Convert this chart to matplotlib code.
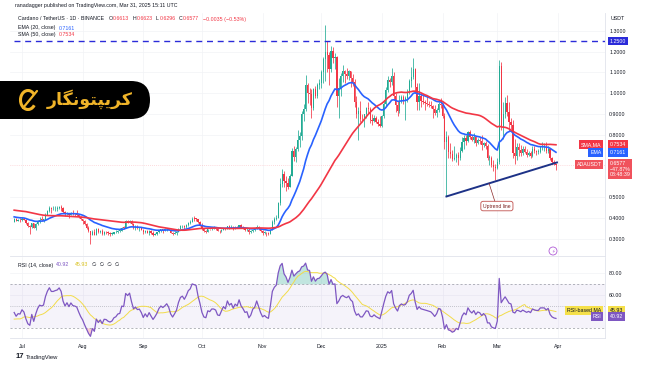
import numpy as np
import pandas as pd
import matplotlib
matplotlib.use('Agg')
import matplotlib.pyplot as plt
from matplotlib.patches import FancyBboxPatch, Arc, Circle

plt.rcParams['font.family'] = ['Liberation Sans', 'DejaVu Sans']

# ADA/USDT daily closes 2024-05-08 .. 2024-06-26 (off screen, only used to seed EMA / SMA / RSI)
warmup_close = [
    0.447, 0.458, 0.446, 0.443, 0.450, 0.443, 0.447, 0.466, 0.460, 0.467, 0.470, 0.466,
    0.493, 0.483, 0.478, 0.463, 0.466, 0.468, 0.467, 0.459, 0.464, 0.454, 0.449, 0.448,
    0.452, 0.449, 0.453, 0.455, 0.464, 0.460, 0.443, 0.446, 0.447, 0.441, 0.421, 0.433,
    0.425, 0.415, 0.420, 0.423, 0.404, 0.381, 0.393, 0.397, 0.396, 0.394, 0.375, 0.390,
    0.394, 0.384,
]

# visible candles, one per day from 2024-06-27 to 2025-03-31
start = '2024-06-27'
close = [
    0.397, 0.387, 0.392, 0.391,
    0.399, 0.394, 0.377, 0.362, 0.357, 0.377, 0.355, 0.371, 0.385, 0.394, 0.392, 0.394, 0.418, 0.437, 0.451, 0.443,
    0.443, 0.446, 0.448, 0.455, 0.449, 0.430, 0.419, 0.427, 0.418, 0.427, 0.421, 0.420, 0.418, 0.407, 0.396,
    0.387, 0.372, 0.356, 0.337, 0.321, 0.335, 0.322, 0.348, 0.334, 0.340, 0.325, 0.335, 0.334, 0.328, 0.325, 0.327,
    0.333, 0.335, 0.340, 0.341, 0.355, 0.354, 0.386, 0.382, 0.389, 0.372, 0.355, 0.359, 0.353, 0.354, 0.346,
    0.333, 0.340, 0.332, 0.340, 0.331, 0.322, 0.327, 0.333, 0.342, 0.347, 0.344, 0.347, 0.351, 0.345, 0.332, 0.325,
    0.330, 0.336, 0.350, 0.361, 0.364, 0.359, 0.367, 0.379, 0.384, 0.399, 0.398, 0.397, 0.382, 0.369,
    0.350, 0.338, 0.336, 0.349, 0.347, 0.352, 0.352, 0.350, 0.340, 0.339, 0.346, 0.353, 0.349, 0.363, 0.356, 0.359,
    0.351, 0.358, 0.355, 0.366, 0.356, 0.351, 0.344, 0.345, 0.333, 0.337, 0.346, 0.349, 0.360, 0.350, 0.339,
    0.330, 0.332, 0.328, 0.326, 0.346, 0.381, 0.395, 0.403, 0.474, 0.563, 0.615, 0.581, 0.570, 0.551, 0.604, 0.723,
    0.695, 0.735, 0.775, 0.797, 0.899, 0.924, 1.039, 0.999, 0.996, 0.929, 1.020, 0.989, 1.041, 1.050,
    1.100, 1.164, 1.196, 1.182, 1.115, 1.204, 1.167, 1.175, 0.986, 1.025, 1.085, 1.107, 1.092, 1.084, 1.105, 1.071,
    1.054, 0.957, 0.902, 0.915, 0.877, 0.876, 0.900, 0.927, 0.923, 0.874, 0.866, 0.880, 0.863, 0.853, 0.843,
    0.890, 0.950, 1.015, 1.065, 1.055, 1.085, 0.985, 0.945, 0.915, 0.965, 0.980, 0.970, 0.975, 1.000, 1.060, 1.080,
    1.115, 1.030, 0.960, 0.985, 0.965, 0.960, 0.955, 0.950, 0.945, 0.940, 0.925, 0.905, 0.920, 0.950, 0.945,
    0.890, 0.765, 0.790, 0.720, 0.710, 0.685, 0.690, 0.705, 0.690, 0.725, 0.765, 0.785, 0.770, 0.815, 0.790, 0.775,
    0.790, 0.760, 0.775, 0.770, 0.750, 0.760, 0.745, 0.690, 0.690, 0.655, 0.645, 0.640,
    0.670, 1.130, 0.840, 0.900, 0.955, 0.910, 0.860, 0.850, 0.715, 0.700, 0.740, 0.730, 0.715, 0.735, 0.720, 0.705,
    0.715, 0.700, 0.735, 0.725, 0.720, 0.720, 0.740, 0.740, 0.740, 0.725, 0.735, 0.690, 0.670, 0.6613, 0.6577,
]
high = [
    0.402, 0.400, 0.395, 0.400,
    0.405, 0.403, 0.395, 0.381, 0.366, 0.380, 0.379, 0.377, 0.390, 0.405, 0.412, 0.398, 0.424, 0.441, 0.457, 0.455,
    0.458, 0.457, 0.457, 0.460, 0.462, 0.455, 0.437, 0.432, 0.426, 0.432, 0.440, 0.425, 0.440, 0.420, 0.412,
    0.398, 0.393, 0.376, 0.362, 0.340, 0.345, 0.347, 0.352, 0.352, 0.345, 0.348, 0.341, 0.341, 0.341, 0.335, 0.334,
    0.336, 0.345, 0.344, 0.354, 0.358, 0.362, 0.390, 0.393, 0.393, 0.391, 0.380, 0.366, 0.368, 0.358, 0.357,
    0.347, 0.343, 0.345, 0.342, 0.342, 0.340, 0.331, 0.335, 0.345, 0.350, 0.349, 0.352, 0.356, 0.352, 0.347, 0.335,
    0.340, 0.339, 0.355, 0.366, 0.368, 0.366, 0.372, 0.382, 0.390, 0.405, 0.410, 0.401, 0.399, 0.386,
    0.376, 0.356, 0.345, 0.351, 0.351, 0.355, 0.362, 0.356, 0.355, 0.344, 0.350, 0.355, 0.355, 0.365, 0.367, 0.368,
    0.363, 0.362, 0.363, 0.368, 0.373, 0.361, 0.354, 0.353, 0.353, 0.342, 0.348, 0.352, 0.367, 0.364, 0.355,
    0.344, 0.338, 0.334, 0.334, 0.349, 0.391, 0.405, 0.416, 0.480, 0.595, 0.637, 0.629, 0.603, 0.592, 0.611, 0.736,
    0.748, 0.742, 0.826, 0.815, 0.916, 0.947, 1.089, 1.050, 1.027, 1.018, 1.026, 1.037, 1.050, 1.069,
    1.113, 1.176, 1.326, 1.250, 1.200, 1.225, 1.222, 1.192, 1.180, 1.073, 1.098, 1.136, 1.111, 1.122, 1.112, 1.104,
    1.092, 1.066, 0.986, 0.935, 0.962, 0.902, 0.902, 0.935, 0.958, 0.933, 0.899, 0.895, 0.893, 0.878, 0.889,
    0.896, 0.968, 1.028, 1.082, 1.075, 1.121, 1.100, 1.003, 0.963, 0.990, 0.994, 0.992, 0.985, 1.020, 1.070, 1.125,
    1.167, 1.120, 1.050, 1.050, 1.000, 0.990, 0.970, 0.985, 0.965, 0.965, 0.945, 0.945, 0.930, 0.960, 0.975,
    0.955, 0.905, 0.820, 0.800, 0.760, 0.730, 0.745, 0.715, 0.720, 0.740, 0.790, 0.800, 0.800, 0.820, 0.825, 0.800,
    0.810, 0.795, 0.785, 0.790, 0.800, 0.765, 0.770, 0.755, 0.705, 0.700, 0.680, 0.660,
    0.690, 1.160, 1.150, 0.960, 0.980, 0.990, 0.960, 0.880, 0.870, 0.780, 0.760, 0.760, 0.750, 0.745, 0.745, 0.735,
    0.725, 0.725, 0.745, 0.745, 0.730, 0.735, 0.745, 0.765, 0.760, 0.765, 0.745, 0.735, 0.695, 0.680, 0.6623,
]
low = [
    0.382, 0.385, 0.386, 0.384,
    0.389, 0.390, 0.372, 0.357, 0.326, 0.352, 0.354, 0.345, 0.368, 0.380, 0.386, 0.381, 0.392, 0.415, 0.432, 0.428,
    0.438, 0.433, 0.435, 0.444, 0.437, 0.425, 0.413, 0.414, 0.400, 0.415, 0.418, 0.410, 0.413, 0.401, 0.394,
    0.373, 0.368, 0.351, 0.333, 0.276, 0.318, 0.318, 0.319, 0.331, 0.330, 0.322, 0.320, 0.327, 0.322, 0.316, 0.320,
    0.325, 0.330, 0.328, 0.336, 0.337, 0.347, 0.352, 0.377, 0.378, 0.368, 0.350, 0.344, 0.349, 0.341, 0.344,
    0.327, 0.328, 0.330, 0.321, 0.327, 0.314, 0.320, 0.322, 0.329, 0.336, 0.332, 0.340, 0.341, 0.342, 0.330, 0.320,
    0.324, 0.321, 0.334, 0.347, 0.355, 0.348, 0.354, 0.363, 0.374, 0.381, 0.388, 0.387, 0.378, 0.365,
    0.345, 0.333, 0.332, 0.334, 0.343, 0.344, 0.350, 0.344, 0.339, 0.330, 0.336, 0.345, 0.344, 0.347, 0.348, 0.354,
    0.346, 0.350, 0.352, 0.353, 0.352, 0.347, 0.338, 0.339, 0.326, 0.330, 0.334, 0.338, 0.348, 0.345, 0.335,
    0.322, 0.326, 0.313, 0.318, 0.325, 0.342, 0.375, 0.390, 0.402, 0.466, 0.550, 0.550, 0.530, 0.540, 0.548, 0.602,
    0.675, 0.670, 0.725, 0.741, 0.778, 0.865, 0.915, 0.955, 0.946, 0.880, 0.922, 0.975, 0.978, 1.020,
    1.023, 1.048, 1.060, 1.100, 1.040, 1.101, 1.144, 1.117, 0.935, 0.880, 0.985, 1.054, 1.048, 1.066, 1.065, 1.032,
    1.035, 0.935, 0.883, 0.775, 0.860, 0.860, 0.840, 0.880, 0.900, 0.858, 0.849, 0.860, 0.855, 0.842, 0.837,
    0.837, 0.880, 0.940, 1.006, 1.030, 1.040, 0.970, 0.910, 0.890, 0.904, 0.955, 0.950, 0.872, 0.960, 0.995, 1.030,
    1.070, 1.000, 0.920, 0.920, 0.935, 0.950, 0.920, 0.940, 0.935, 0.930, 0.880, 0.895, 0.885, 0.912, 0.930,
    0.880, 0.735, 0.505, 0.690, 0.690, 0.675, 0.680, 0.670, 0.655, 0.680, 0.720, 0.735, 0.750, 0.765, 0.780, 0.770,
    0.760, 0.745, 0.755, 0.755, 0.730, 0.740, 0.735, 0.680, 0.655, 0.645, 0.625, 0.585,
    0.635, 0.660, 0.825, 0.780, 0.880, 0.890, 0.820, 0.830, 0.690, 0.660, 0.680, 0.700, 0.700, 0.705, 0.715, 0.695,
    0.700, 0.690, 0.695, 0.715, 0.705, 0.710, 0.715, 0.730, 0.725, 0.715, 0.715, 0.680, 0.660, 0.655, 0.6296,
]

month_labels = ['Jul', 'Aug', 'Sep', 'Oct', 'Nov', 'Dec', '2025', 'Feb', 'Mar', 'Apr']
price_ticks = [0.3, 0.4, 0.5, 0.8, 0.9, 1.0, 1.1, 1.2, 1.3]
rsi_ticks = [60, 80]
resistance = 1.25
trend_from = ('2025-02-03', 0.505)
trend_to = ('2025-03-31', 0.668)

UP = '#22ab94'
DOWN = '#f23645'
BLUE = '#2962ff'
TXT = '#131722'
PURPLE = '#7e57c2'
YELLOW = '#f2dc4a'

n = len(close)
dates = pd.date_range(start, periods=n, freq='D')
x = np.arange(n)
c = np.array(close)
o = np.r_[warmup_close[-1], c[:-1]]
h = np.maximum(np.array(high), np.maximum(o, c))
l = np.minimum(np.array(low), np.minimum(o, c))

# indicators
allc = pd.Series(warmup_close + close)
ema20 = allc.ewm(span=20, adjust=False).mean().values[-n:]
sma50 = allc.rolling(50).mean().values[-n:]
d = allc.diff()
gain = d.clip(lower=0).ewm(alpha=1/14, adjust=False).mean()
loss = (-d.clip(upper=0)).ewm(alpha=1/14, adjust=False).mean()
rsi_all = 100 - 100 / (1 + gain / loss)
rsi = rsi_all.values[-n:]
rsi_ma = rsi_all.rolling(14).mean().values[-n:]

months = pd.date_range('2024-07-01', '2025-04-01', freq='MS')
month_x = (months - dates[0]).days.values

def day(s):
    return (pd.Timestamp(s) - dates[0]).days

W, H = 650, 365
fig = plt.figure(figsize=(6.5, 3.65), dpi=100)

def box(l_, t, r, b):
    return [l_ / W, 1 - b / H, (r - l_) / W, (b - t) / H]

ax = fig.add_axes(box(10, 13, 605, 256))
rx = fig.add_axes(box(10, 257, 605, 338), sharex=ax)

# ---- price panel
col = np.where(c >= o, UP, DOWN)
ax.vlines(x, l, h, colors=col, lw=0.55, zorder=2)
ax.bar(x, np.maximum(np.abs(c - o), 0.0025), bottom=np.minimum(o, c), width=0.62,
       color=col, lw=0, zorder=3)
ax.plot(x, ema20, color=BLUE, lw=1.2, zorder=4)
ax.plot(x, sma50, color=DOWN, lw=1.2, zorder=4)

ax.hlines(resistance, 0, 302, color='#2b2bd9', lw=1.0, linestyles=[(0, (4.3, 3.4))], zorder=4)
ax.axhline(c[-1], color=DOWN, lw=0.5, alpha=0.35, ls=(0, (1, 2)), zorder=1)

tx = [day(trend_from[0]), day(trend_to[0]) + 0.5]
ax.plot(tx, [trend_from[1], trend_to[1]], color='#1d3287', lw=1.4, zorder=5)
ax.plot([242.8, 245.8], [0.568, 0.480], color='#8b2a2a', lw=0.5, zorder=5)
ax.text(246.8, 0.459, 'Uptrend line', fontsize=3.6, color='#7a1f1f', ha='center', va='center', zorder=6,
        bbox=dict(boxstyle='round,pad=0.45', fc='white', ec='#c0504d', lw=0.6))

ax.set_xlim(-2.13, 302.07)
ax.set_ylim(0.2194, 1.3849)
ax.set_xticks(month_x)
ax.set_yticks(price_ticks)
ax.yaxis.set_major_formatter(lambda v, p: f'{v:.4f}')
ax.yaxis.tick_right()
ax.tick_params(axis='y', length=0, pad=3, labelsize=3.8, labelcolor=TXT)
ax.tick_params(axis='x', length=0, labelbottom=False)
ax.grid(color='#f2f3f6', lw=0.5)
ax.set_axisbelow(True)

# ---- RSI panel
rx.axhspan(30, 70, color=PURPLE, alpha=0.07, lw=0)
for lv, ds in [(70, (3, 3)), (50, (1, 2)), (30, (3, 3))]:
    rx.axhline(lv, color='#9598a1', lw=0.5, dashes=ds)
rx.fill_between(x, rsi, 70, where=rsi > 70, interpolate=True, color='#089981', alpha=0.25, lw=0)
rx.fill_between(x, rsi, 30, where=rsi < 30, interpolate=True, color=DOWN, alpha=0.25, lw=0)
rx.plot(x, rsi_ma, color=YELLOW, lw=0.7)
rx.plot(x, rsi, color=PURPLE, lw=0.9)
rx.set_ylim(21.2, 94.8)
rx.set_yticks(rsi_ticks)
rx.yaxis.set_major_formatter(lambda v, p: f'{v:.2f}')
rx.yaxis.tick_right()
rx.tick_params(axis='y', length=0, pad=3, labelsize=3.8, labelcolor=TXT)
rx.set_xticks(month_x)
rx.set_xticklabels(month_labels)
rx.tick_params(axis='x', length=0, pad=4, labelsize=3.8, labelcolor=TXT)
rx.grid(color='#f2f3f6', lw=0.5)
rx.set_axisbelow(True)

for a in (ax, rx):
    for s in ('left', 'top'):
        a.spines[s].set_visible(False)
    for s in ('right', 'bottom'):
        a.spines[s].set_color('#e0e3eb')
        a.spines[s].set_linewidth(0.6)

def tag(a, y, s, fc, tc='white', left=None, va='center', dy=0):
    kw = dict(xycoords=a.get_yaxis_transform(), textcoords='offset points', fontsize=3.8,
              annotation_clip=False, zorder=10, linespacing=1.15)
    a.annotate(s, (1.0, y), xytext=(3.2, dy), ha='left', va=va, color=tc,
               bbox=dict(boxstyle='square,pad=0.35', fc=fc, ec='none'), **kw)
    if left:
        a.annotate(left, (1.0, y), xytext=(-2.5, 0), ha='right', va='center', color=tc,
                   bbox=dict(boxstyle='square,pad=0.35', fc=fc, ec='none'), **kw)

tag(ax, resistance, '1.2500', '#2b2bd9')
tag(ax, 0.7534, '0.7534', DOWN, left='SMA,MA')
tag(ax, 0.7161, '0.7161', BLUE, left='EMA')
tag(ax, c[-1], '0.6577\n\u221247.87%\n08:48:39', '#f0525c', left='ADAUSDT', va='top', dy=2.4)
tag(rx, 45.93, '45.93', '#f5e04a', tc=TXT, left='RSI-based MA')
tag(rx, 40.92, '40.92', PURPLE, left='RSI')

# ---- overlay in pixel coords: header texts, watermark logo
ov = fig.add_axes([0, 0, 1, 1], zorder=20)
ov.set_xlim(0, W)
ov.set_ylim(H, 0)
ov.axis('off')

fs = 3.8
ov.text(15, 6, 'ranadagger published on TradingView.com, Mar 31, 2025 15:11 UTC', fontsize=fs, color=TXT, va='center')
ov.text(18, 19, 'Cardano / TetherUS \u00b7 1D \u00b7 BINANCE', fontsize=fs, color=TXT, va='center')
for px, k, v in [(109, 'O', '0.6613'), (133, 'H', '0.6623'), (156, 'L', '0.6296'), (179, 'C', '0.6577')]:
    ov.text(px, 19, k, fontsize=fs, color=TXT, va='center')
    ov.text(px + 3.3, 19, v, fontsize=fs, color=DOWN, va='center')
ov.text(203, 19, '\u22120.0035 (\u22120.53%)', fontsize=fs, color=DOWN, va='center')
ov.text(18, 28, 'EMA (20, close)', fontsize=fs, color=TXT, va='center')
ov.text(59, 28, '0.7161', fontsize=fs, color=BLUE, va='center')
ov.text(18, 34.5, 'SMA (50, close)', fontsize=fs, color=TXT, va='center')
ov.text(59, 34.5, '0.7534', fontsize=fs, color=DOWN, va='center')
ov.text(611, 19, 'USDT', fontsize=fs, color=TXT, va='center')

ov.text(18, 265, 'RSI (14, close)', fontsize=fs, color=TXT, va='center')
ov.text(56, 265, '40.92', fontsize=fs, color=PURPLE, va='center')
ov.text(75, 265, '45.93', fontsize=fs, color='#d9c21f', va='center')
ov.text(92, 265, '\u2205  \u2205  \u2205  \u2205', fontsize=fs, color=TXT, va='center')

ov.text(16, 357, '17', fontsize=5.5, fontweight='bold', color=TXT, va='center')
ov.text(26, 357, 'TradingView', fontsize=4.2, color=TXT, va='center')

ov.add_patch(Circle((553, 251), 4, fc='white', ec='#b05bd6', lw=0.6))
ov.text(553, 251.3, '\u26a1', fontsize=3.5, color='#b05bd6', ha='center', va='center', family='DejaVu Sans')

# watermark
GOLD = '#f0b429'
ov.add_patch(FancyBboxPatch((-20, 81), 170, 38, boxstyle='round,pad=0,rounding_size=19', fc='black', ec='none'))
ov.add_patch(Arc((28, 100), 15, 19, theta1=40, theta2=320, color=GOLD, lw=2.2))
ov.plot([23, 37], [108, 91], color=GOLD, lw=1.6, solid_capstyle='round')
logo = '\uFEAD\uFE8E\uFB95\uFEE7\uFEEE\uFE98\uFB59\uFBFE\uFEAE\uFB90'
ov.text(90, 99, logo, fontsize=12.5, fontweight='bold', color=GOLD, ha='center', va='center', family='DejaVu Sans')

fig.savefig('out.png', dpi=100)
